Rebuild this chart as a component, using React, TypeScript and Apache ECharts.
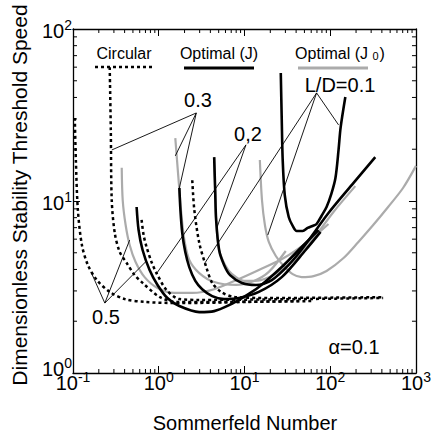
import { useEffect, useRef } from "react";
import * as echarts from "echarts";

const FONT = "'Liberation Sans', Arial, Helvetica, sans-serif";

// minor tick positions (log axes)
const xMinorTicks = [0.2, 0.3, 0.4, 0.5, 0.6, 0.7, 0.8, 0.9, 2, 3, 4, 5, 6, 7, 8, 9, 20, 30, 40, 50, 60, 70, 80, 90, 200, 300, 400, 500, 600, 700, 800, 900];
const yMinorTicks = [2, 3, 4, 5, 6, 7, 8, 9, 20, 30, 40, 50, 60, 70, 80, 90];

// Circular bearing (dotted), L/D = 0.5, 0.3, 0.2, 0.1
const circ05 = [[0.105, 30.4], [0.108, 17.3], [0.114, 8.87], [0.127, 5.55], [0.149, 4.25], [0.19, 3.47], [0.268, 2.96], [0.401, 2.69], [0.684, 2.59], [1.74, 2.55], [11.3, 2.59], [42.9, 2.62]];
const circ03 = [[0.268, 60], [0.276, 25.9], [0.283, 10.1], [0.307, 6.51], [0.351, 5.05], [0.423, 4.36], [0.524, 3.71], [0.648, 3.34], [1.02, 2.77], [1.61, 2.59], [5.06, 2.59], [60, 2.62]];
const circ02 = [[0.631, 7.76], [0.666, 6.34], [0.721, 5.4], [0.824, 4.42], [0.942, 3.81], [1.23, 3.04], [1.74, 2.69], [2.97, 2.66], [42.9, 2.69], [414, 2.73]];
const circ01 = [[2.46, 13.2], [2.6, 8.87], [2.97, 5.7], [3.58, 4.13], [4.2, 3.34], [5.34, 2.96], [7.55, 2.77], [19.2, 2.73], [414, 2.76]];

// Optimal (J) (black solid)
const optJ05 = [[0.552, 9.23], [0.582, 6.78], [0.648, 5.19], [0.782, 3.97], [0.968, 3.25], [1.26, 2.73], [1.74, 2.45], [2.97, 2.26], [4.43, 2.29], [6.61, 2.48], [9.86, 2.77], [14.7, 3.16], [27.2, 4.13], [46.4, 5.4], [73.1, 6.78]];
const optJ03 = [[1.74, 11.9], [1.79, 8.87], [1.88, 6.51], [2.04, 5.05], [2.27, 4.13], [2.67, 3.43], [3.21, 3.07], [4.2, 2.8], [5.78, 2.69], [8.63, 2.73], [14.7, 2.96], [27.2, 3.61], [51.7, 5.19], [77.1, 6.61]];
const optJ02 = [[4.43, 18.0], [4.55, 11.6], [4.67, 7.76], [5.06, 5.19], [5.78, 4.25], [6.79, 3.71], [9.35, 3.34], [13.6, 3.25], [20.8, 3.47], [32.8, 4.25], [48.9, 5.4], [95.4, 8.51], [186, 12.7], [335, 18.0]];
const optJ01 = [[26.5, 55.5], [27.2, 29.6], [27.9, 17.3], [29.5, 10.8], [32.8, 8.07], [36.5, 7.16], [40.6, 6.69], [47.7, 6.69], [54.5, 6.97], [62.2, 7.16], [69.3, 7.35], [79, 8.18], [90.6, 9.23], [103, 11.0], [115, 13.6], [125, 19.8], [132, 26.6], [150, 40.2]];

// Optimal (J0) (gray solid)
const optJ0_05 = [[0.37, 15.6], [0.38, 10.1], [0.411, 7.25], [0.458, 5.55], [0.537, 4.42], [0.684, 3.61], [0.968, 3.12], [1.52, 2.92], [2.46, 2.92], [4.43, 3.07], [8.63, 3.52], [14.7, 3.97], [28.7, 4.66], [56.0, 5.85], [95.4, 7.35]];
const optJ0_03 = [[1.56, 23.2], [1.65, 16.2], [1.74, 11.6], [1.84, 8.29], [1.99, 5.93], [2.27, 4.54], [2.97, 3.81], [4.43, 3.38], [7.97, 3.25], [12.9, 3.43], [19.2, 3.87], [30.3, 5.12]];
const optJ0_02 = [[4.43, 17.8], [4.55, 11.6], [4.67, 7.76], [5.06, 5.19], [5.94, 4.25], [7.16, 3.76], [9.86, 3.43], [15.5, 3.47], [25.1, 3.87], [37.5, 4.54], [56.0, 5.55], [109, 8.63], [196, 12.2]];
const optJ0_01 = [[15.1, 17.3], [16.0, 10.1], [17.3, 7.25], [19.2, 5.78], [23.2, 4.79], [28.7, 4.19], [36.5, 3.76], [46.4, 3.61], [64.0, 3.66], [90.6, 3.92], [143, 4.66], [213, 5.78], [317, 7.25], [473, 9.23], [706, 11.9], [1000, 16.0]];

// label leader lines: apex and targets (data coordinates)
const leader03Apex = [2.74, 32.5];
const leader03Targets = [[0.283, 19.8], [1.56, 18.3], [1.74, 11.9]];
const leader02Apex = [10.4, 21.2];
const leader02Targets = [[0.93, 3.75], [4.8, 7.06]];
const leader01Apex = [69.3, 42.5];
const leader01Targets = [[3.39, 4.3], [18.7, 6.34], [125, 27.7]];
const leader05Apex = [0.235, 2.55];
const leader05Targets = [[0.162, 3.87], [0.458, 5.93], [0.7, 4.42]];

const GRAY = "#ababab";

function curve(data: number[][], color: string, width: number, dashed: boolean, z: number) {
  return {
    type: "line",
    data,
    symbol: "none",
    showSymbol: false,
    smooth: 0.3,
    silent: true,
    z,
    lineStyle: { color, width, type: dashed ? [3, 3] : "solid", cap: "butt" },
  };
}

function leaders(apex: number[], targets: number[][]) {
  return targets.map((t) => ({
    type: "line",
    data: [t, apex],
    symbol: "none",
    showSymbol: false,
    silent: true,
    z: 10,
    lineStyle: { color: "#000", width: 0.9 },
  }));
}

function xLabel(v: number) {
  const e = Math.round(Math.log10(v));
  return `{b|10}{s|${e}}`;
}
function yLabel(v: number) {
  const e = Math.round(Math.log10(v));
  return e === 0 ? `{bl|10}{s|${e}}` : `{b|10}{s|${e}}`;
}

const labelRich = {
  b: { fontSize: 20, fontFamily: FONT, color: "#000", padding: [3, 0, 0, 0] },
  bl: { fontSize: 20, fontFamily: FONT, color: "#000", padding: [3, 0, 12, 0] },
  s: { fontSize: 14, fontFamily: FONT, color: "#000", verticalAlign: "top" },
};

const txt = (text: string, x: number, y: number, size: number, extra: any = {}) => ({
  type: "text",
  x,
  y,
  ...extra,
  style: { text, fontSize: size, fontFamily: FONT, fill: "#000", align: "center", verticalAlign: "middle", textAlign: "center", textVerticalAlign: "middle" },
});

export default function App() {
  const ref = useRef<HTMLDivElement>(null);
  useEffect(() => {
    const chart = echarts.init(ref.current!, null, { renderer: "svg" });
    const axisLine = { show: true, lineStyle: { color: "#000", width: 1.3 } };
    const axisTick = { show: true, inside: true, length: 7, lineStyle: { color: "#000", width: 1 } };
    const tickStyle = { stroke: "#000", lineWidth: 1 };
    const option: any = {
      animation: false,
      backgroundColor: "#fff",
      grid: { left: 73, top: 29, width: 345, height: 344 },
      xAxis: [
        {
          type: "log", logBase: 10, min: 0.1, max: 1000, position: "bottom",
          axisLine, axisTick, splitLine: { show: false },
          axisLabel: { margin: -3, formatter: xLabel, rich: labelRich },
        },
        {
          type: "log", logBase: 10, min: 0.1, max: 1000, position: "top",
          axisLine, axisTick, splitLine: { show: false }, axisLabel: { show: false },
        },
      ],
      yAxis: [
        {
          type: "log", logBase: 10, min: 1, max: 100, position: "left",
          axisLine, axisTick, splitLine: { show: false },
          axisLabel: { margin: 1, formatter: yLabel, rich: labelRich },
        },
        {
          type: "log", logBase: 10, min: 1, max: 100, position: "right",
          axisLine, axisTick, splitLine: { show: false }, axisLabel: { show: false },
        },
      ],
      series: [
        curve(optJ0_05, GRAY, 2.2, false, 2),
        curve(optJ0_03, GRAY, 2.2, false, 2),
        curve(optJ0_02, GRAY, 2.2, false, 2),
        curve(optJ0_01, GRAY, 2.2, false, 2),
        curve(circ05, "#000", 2.5, true, 3),
        curve(circ03, "#000", 2.5, true, 3),
        curve(circ02, "#000", 2.5, true, 3),
        curve(circ01, "#000", 2.5, true, 3),
        curve(optJ05, "#000", 2.6, false, 4),
        curve(optJ03, "#000", 2.6, false, 4),
        curve(optJ02, "#000", 2.6, false, 4),
        curve(optJ01, "#000", 2.6, false, 4),
        ...leaders(leader03Apex, leader03Targets),
        ...leaders(leader02Apex, leader02Targets),
        ...leaders(leader01Apex, leader01Targets),
        ...leaders(leader05Apex, leader05Targets),
        {
          type: "custom", silent: true, clip: false, z: 12,
          data: xMinorTicks.map((v) => [v, 1]),
          renderItem: (_p: any, api: any) => {
            const v = api.value(0);
            const b = api.coord([v, 1]);
            const t = api.coord([v, 100]);
            return {
              type: "group",
              children: [
                { type: "line", shape: { x1: b[0], y1: b[1], x2: b[0], y2: b[1] - 4 }, style: tickStyle },
                { type: "line", shape: { x1: t[0], y1: t[1], x2: t[0], y2: t[1] + 4 }, style: tickStyle },
              ],
            };
          },
        },
        {
          type: "custom", silent: true, clip: false, z: 12,
          data: yMinorTicks.map((v) => [0.1, v]),
          renderItem: (_p: any, api: any) => {
            const v = api.value(1);
            const l = api.coord([0.1, v]);
            const r = api.coord([1000, v]);
            return {
              type: "group",
              children: [
                { type: "line", shape: { x1: l[0], y1: l[1], x2: l[0] + 4, y2: l[1] }, style: tickStyle },
                { type: "line", shape: { x1: r[0], y1: r[1], x2: r[0] - 4, y2: r[1] }, style: tickStyle },
              ],
            };
          },
        },
      ],
      graphic: [
        // legend
        txt("Circular", 124, 53, 16),
        { type: "line", shape: { x1: 95, y1: 67, x2: 153, y2: 67 }, style: { stroke: "#000", lineWidth: 2.5, lineDash: [3, 3] } },
        txt("Optimal (J)", 219, 53, 16),
        { type: "line", shape: { x1: 184, y1: 68, x2: 254, y2: 68 }, style: { stroke: "#000", lineWidth: 3 } },
        {
          type: "text", x: 340, y: 53,
          style: {
            text: "{a|Optimal (J }{c|0}{a|)}",
            rich: {
              a: { fontSize: 16, fontFamily: FONT, fill: "#000", color: "#000" },
              c: { fontSize: 11, fontFamily: FONT, fill: "#000", color: "#000", verticalAlign: "bottom", padding: [6, 1, 0, 0] },
            },
            align: "center", verticalAlign: "middle", textAlign: "center", textVerticalAlign: "middle",
          },
        },
        { type: "line", shape: { x1: 298, y1: 68, x2: 368, y2: 68 }, style: { stroke: GRAY, lineWidth: 3 } },
        // curve labels
        txt("0.3", 198, 100, 20),
        txt("0,2", 248, 134, 20),
        txt("L/D=0.1", 340, 85, 20),
        txt("0.5", 106, 317, 20),
        txt("α=0.1", 354, 347, 20),
        // axis titles
        txt("Sommerfeld Number", 245, 423, 20),
        txt("Dimensionless Stability Threshold Speed", 19, 195, 21, { rotation: Math.PI / 2 }),
      ],
    };
    chart.setOption(option);
    return () => chart.dispose();
  }, []);
  return <div ref={ref} style={{ position: "fixed", left: 0, top: 0, width: 434, height: 439, background: "#fff" }} />;
}
